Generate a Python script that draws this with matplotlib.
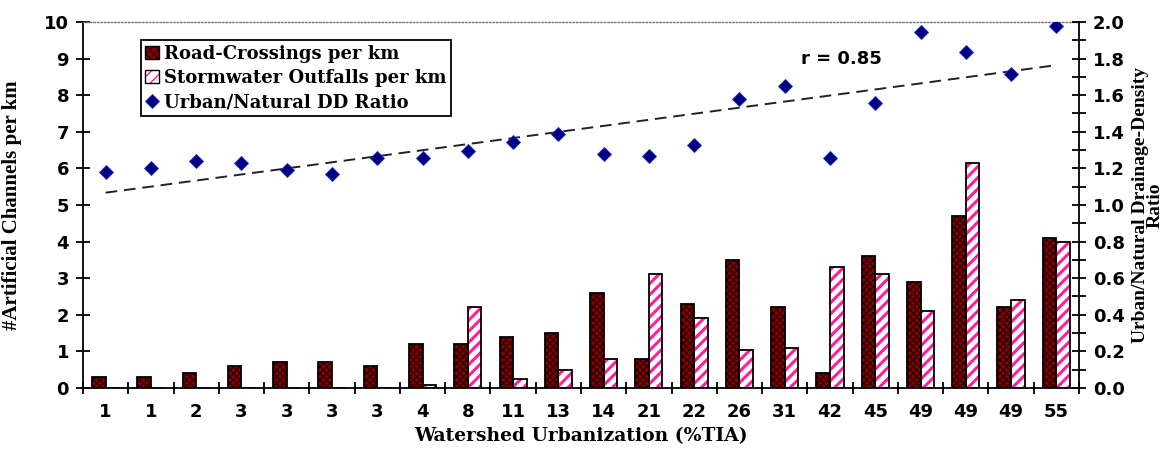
import numpy as np
import matplotlib.pyplot as plt
from matplotlib.lines import Line2D
from matplotlib.patches import Patch
from matplotlib.ticker import MultipleLocator

# ====== Data ======
tia_labels = ['1', '1', '2', '3', '3', '3', '3', '4', '8', '11', '13',
              '14', '21', '22', '26', '31', '42', '45', '49', '49', '49', '55']
road_crossings = [0.3, 0.3, 0.4, 0.6, 0.7, 0.7, 0.6, 1.2, 1.2, 1.4, 1.5,
                  2.6, 0.8, 2.3, 3.5, 2.2, 0.4, 3.6, 2.9, 4.7, 2.2, 4.1]
outfalls = [0, 0, 0, 0, 0, 0, 0, 0.07, 2.2, 0.25, 0.5,
            0.8, 3.1, 1.9, 1.05, 1.1, 3.3, 3.1, 2.1, 6.15, 2.4, 4.0]
dd_ratio = [1.18, 1.20, 1.24, 1.23, 1.19, 1.17, 1.255, 1.255, 1.295, 1.345, 1.39,
            1.28, 1.27, 1.33, 1.58, 1.65, 1.255, 1.555, 1.945, 1.835, 1.715, 1.98]

ROAD_FACE = '#8a0000'
ROAD_HATCH = '#2b0000'
PINK = '#ff1f9a'
DIAMOND = '#000080'

num_font = dict(family='DejaVu Sans', weight='bold', size=13)
lab_font = dict(family='Liberation Serif', weight='bold', size=15)

fig = plt.figure(figsize=(11.69, 4.49), dpi=100)
ax = fig.add_axes([0.071, 0.136, 0.852, 0.815])
ax2 = ax.twinx()

n = len(tia_labels)
centers = np.arange(n) + 0.5
w = 0.3

# ====== Bars ======
ax.bar(centers - w / 2, road_crossings, w, color=ROAD_FACE, edgecolor=ROAD_HATCH,
       hatch='xxxxx', linewidth=0, zorder=2)
ax.bar(centers - w / 2, road_crossings, w, fill=False, edgecolor='black',
       linewidth=1.3, zorder=3)
with plt.rc_context({'hatch.linewidth': 2.2}):
    ax.bar(centers + w / 2, outfalls, w, color='white', edgecolor=PINK,
           hatch='///', linewidth=0, zorder=2)
    h_out_fill = Patch(facecolor='white', edgecolor=PINK, hatch='///', linewidth=0)
ax.bar(centers + w / 2, outfalls, w, fill=False, edgecolor='black',
       linewidth=1.3, zorder=3)

# ====== Ratio points and trend ======
ax2.plot(centers, dd_ratio, linestyle='none', marker='D', markersize=7.5,
         markerfacecolor=DIAMOND, markeredgecolor='#1a2ad0', markeredgewidth=0.6,
         zorder=4)
slope, icpt = np.polyfit(centers, dd_ratio, 1)
ax2.plot(centers, slope * centers + icpt, color='#222222', linewidth=1.4,
         dashes=(6, 3.5), zorder=3)
ax2.text(15.85, 1.80, 'r = 0.85', ha='left', va='center', **num_font)

# ====== Axes ======
ax.set_xlim(0, n)
ax.set_ylim(0, 10)
ax2.set_ylim(0, 2.0)

ax.set_xticks(centers)
ax.set_xticklabels(tia_labels, **num_font)
ax.set_xticks(np.arange(0, n + 1), minor=True)
ax.tick_params(axis='x', which='major', length=0, pad=11)
ax.tick_params(axis='x', which='minor', direction='inout', length=9, width=1.3)

ax.yaxis.set_major_locator(MultipleLocator(1))
ax.tick_params(axis='y', direction='inout', length=10, width=1.3, pad=5)
for t in ax.get_yticklabels():
    t.set_fontproperties(num_font)

ax2.yaxis.set_major_locator(MultipleLocator(0.2))
ax2.yaxis.set_minor_locator(MultipleLocator(0.1))
ax2.yaxis.set_major_formatter('{x:.1f}')
ax2.tick_params(axis='y', which='both', direction='inout', length=10, width=1.3, pad=5)
for t in ax2.get_yticklabels():
    t.set_fontproperties(num_font)

for side in ['left', 'bottom']:
    ax.spines[side].set_linewidth(1.3)
ax.spines['right'].set_visible(False)
ax.spines['top'].set_linestyle((0, (1, 1.5)))
ax.spines['top'].set_color('#777777')
ax.spines['top'].set_linewidth(1)
for side in ['left', 'bottom', 'top']:
    ax2.spines[side].set_visible(False)
ax2.spines['right'].set_linewidth(1.3)

ax.set_xlabel('Watershed Urbanization (%TIA)', labelpad=4,
              family='DejaVu Serif', weight='bold', size=13.5)
ax.set_ylabel('#Artificial Channels per km', labelpad=16, **lab_font)
ax2.set_ylabel('Urban/Natural Drainage-Density\nRatio', labelpad=5,
               linespacing=0.85, family='Liberation Serif', weight='bold', size=14)

# ====== Legend ======
h_road = (Patch(facecolor=ROAD_FACE, edgecolor=ROAD_HATCH, hatch='xxxx', linewidth=0),
          Patch(fill=False, edgecolor='black', linewidth=1))
h_out = (h_out_fill, Patch(fill=False, edgecolor='black', linewidth=1))
h_dd = Line2D([], [], linestyle='none', marker='D', markersize=7,
              markerfacecolor=DIAMOND, markeredgecolor='#1a2ad0', markeredgewidth=0.6)
leg = ax2.legend([h_road, h_out, h_dd],
                 ['Road-Crossings per km', 'Stormwater Outfalls per km',
                  'Urban/Natural DD Ratio'],
                 loc='upper left', bbox_to_anchor=(0.058, 0.95),
                 prop=dict(family='DejaVu Serif', weight='bold', size=13),
                 handlelength=0.75, handleheight=0.75, handletextpad=0.3,
                 labelspacing=0.35, borderpad=0.25, borderaxespad=0,
                 frameon=True, fancybox=False, edgecolor='black', framealpha=1)
leg.get_frame().set_linewidth(1.3)

fig.savefig('out.png', dpi=100)
